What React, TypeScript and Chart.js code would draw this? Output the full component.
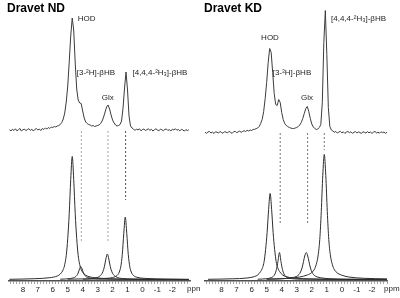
import React, { useEffect, useRef } from 'react';
import { Chart, registerables } from 'chart.js';

Chart.register(...registerables);

const FONT = '"Liberation Sans", Arial, Helvetica, sans-serif';

// tick labels shown under each axis
const tickLabelValues = [8, 7, 6, 5, 4, 3, 2, 1, 0, -1, -2];

// ---------- Dravet ND (left) ----------
const ndTitle = 'Dravet ND';
const ndAxisMin = -3.18;
const ndAxisMax = 8.93;
const ndTopStart = 8.9; // measured spectrum sampled every 0.1 ppm from here
const ndTopSpectrum = [
  0.5, -1, 0.8, -0.5, 1.2, -0.8, 0.3, 1.5, -1, 0.2,
  1, -0.7, 0.5, 1.3, -0.4, 0.8, -1, 0.6, 1.4, 0,
  1, -0.5, 1.5, 0.5, 2, 1, 2.5, 1.5, 3, 2.5,
  3.5, 3, 4, 4.5, 5.5, 7.5, 11, 17, 28, 44,
  68, 94, 112, 100, 67, 41, 30, 27, 26.5, 19,
  12, 8, 6.5, 5.5, 5, 4, 4.5, 3.5, 4, 4.5,
  5, 6.5, 9, 13, 18, 23, 25, 21, 15, 10,
  7, 5, 4, 4.5, 5.5, 9, 22, 42, 58, 40,
  14, 4, 2, 1, -0.5, 1, 0, 1.2, -0.8, 0.5,
  1, -0.6, 0.4, 1.1, -0.3, 0.7, -1, 0.3, 1.2, 0,
  -0.8, 0.9, 0.2, -0.7, 0.6, 1, -0.5, 0.4, -1, 0.8,
  0, 1.3, -0.2, 0.5, -0.9, 0.7, 0.1, -1.2, 0.4, -0.6,
  0.3,
];
const ndTopBase = 151;

const ndHodPpm = [8.9, 7.2, 6.2, 5.7, 5.5, 5.3, 5.2, 5.1, 5.0, 4.9, 4.8, 4.7, 4.6, 4.5, 4.4, 4.3, 4.2, 4.1, 3.9, 3.7, 3.2, 2.2, 0.5, -3.1];
const ndHodFit = [0.2, 0.8, 1.8, 3.5, 5.5, 10, 15, 24, 41, 66, 100, 123, 100, 66, 41, 24, 15, 10, 5.5, 3.5, 1.8, 0.8, 0.2, 0];
const ndDeutPpm = [5.5, 4.8, 4.6, 4.5, 4.4, 4.3, 4.2, 4.13, 4.05, 3.95, 3.85, 3.75, 3.6, 3.4, 2.5, -3.1];
const ndDeutFit = [0.3, 1, 1.8, 2.5, 4, 6.5, 11, 13, 11, 6.5, 4, 2.5, 1.8, 1, 0.3, 0];
const ndGlxPpm = [5.0, 4.0, 3.35, 2.95, 2.75, 2.65, 2.55, 2.45, 2.35, 2.25, 2.15, 2.05, 1.95, 1.75, 1.35, 0.6, -1.0, -3.1];
const ndGlxFit = [0.3, 0.6, 1, 2.5, 5, 7.8, 12.7, 20.4, 25.5, 20.4, 12.7, 7.8, 5, 2.5, 1, 0.5, 0.2, 0];
const ndBhbPpm = [4.0, 2.6, 2.0, 1.7, 1.55, 1.45, 1.35, 1.25, 1.15, 1.05, 0.95, 0.85, 0.75, 0.6, 0.3, -0.3, -1.5, -3.1];
const ndBhbFit = [0.3, 1, 2, 4, 7.5, 13, 25, 46, 62.5, 46, 25, 13, 7.5, 4, 2, 1, 0.4, 0.2];
const ndFitBase = 1.5;

const ndGuidePpm = [4.09, 2.31, 1.13];
const ndGuideTop = [150, 150, 150];
const ndGuideBottom = [40, 40, 81];
const ndGuideColor = ['#a8a8a8', '#a8a8a8', '#555555'];

const ndLabels = ['HOD', '[3-²H]-βHB', 'Glx', '[4,4,4-²H₃]-βHB'];
const ndLabelPpm = [4.33, 4.4, 2.73, 0.67];
const ndLabelY = [262, 208, 183, 208];

// ---------- Dravet KD (right) ----------
const kdTitle = 'Dravet KD';
const kdAxisMin = -3.0;
const kdAxisMax = 9.1;
const kdTopStart = 9.1;
const kdTopSpectrum = [
  0.3, -0.8, 0.6, 1, -0.5, 0.4, -1, 0.8, 0.2, -0.6,
  1.1, 0, -0.7, 0.9, 0.3, -0.4, 1.2, 0.1, -0.9, 0.7,
  1.3, -0.2, 0.6, 1.4, 0.2, 1, 1.8, 1, 2.2, 1.5,
  2.5, 2, 3, 3.2, 3.8, 4.5, 6, 9, 13, 21,
  34, 50, 70, 84, 80, 60, 39, 28, 27, 33,
  30, 20, 13, 9, 7, 6, 5, 4.5, 4, 4,
  4.5, 5, 6, 7.5, 10, 14, 19, 24, 26, 21,
  14, 8.5, 5.5, 4, 3, 3.5, 5, 8, 30, 90,
  122, 78, 25, 6, 2.5, 1.5, 0.3, 1, -0.6, 0.5,
  1.1, -0.3, 0.6, -0.9, 0.4, 1, -0.2, 0.7, -0.8, 0.2,
  0.9, -0.5, 0.6, 0, -1, 0.8, 0.1, -0.6, 0.9, -0.3,
  0.5, -0.9, 0.4, 1, -0.4, 0.3, -0.7, 0.8, -0.2, 0.5,
  -0.8, 0.2,
];
const kdTopBase = 148.5;

const kdHodPpm = [8.9, 7.3, 6.3, 5.8, 5.6, 5.4, 5.27, 5.17, 5.07, 4.97, 4.87, 4.77, 4.67, 4.57, 4.47, 4.37, 4.27, 4.14, 3.94, 3.74, 3.24, 2.2, 0.5, -3.0];
const kdHodFit = [0.2, 0.7, 1.5, 3, 4.5, 8, 12, 18, 30, 47, 70, 86, 70, 47, 30, 18, 12, 8, 4.5, 3, 1.5, 0.7, 0.2, 0];
const kdDeutPpm = [5.6, 5.0, 4.7, 4.55, 4.45, 4.35, 4.25, 4.15, 4.05, 3.95, 3.85, 3.75, 3.6, 3.3, 2.6, -3.0];
const kdDeutFit = [0.3, 0.8, 1.8, 3.2, 5.5, 10, 18, 27, 18, 10, 5.5, 3.2, 1.8, 0.8, 0.3, 0];
const kdGlxPpm = [5.0, 3.9, 3.3, 3.0, 2.85, 2.75, 2.65, 2.55, 2.47, 2.37, 2.27, 2.19, 2.09, 1.99, 1.89, 1.74, 1.44, 0.84, -0.3, -3.0];
const kdGlxFit = [0.3, 0.8, 1.8, 3.2, 5, 7.5, 11.5, 18, 23.5, 27, 23.5, 18, 11.5, 7.5, 5, 3.2, 1.8, 0.8, 0.3, 0];
const kdBhbPpm = [5.0, 3.5, 2.8, 2.3, 2.0, 1.8, 1.67, 1.57, 1.47, 1.37, 1.27, 1.17, 1.07, 0.97, 0.87, 0.77, 0.67, 0.54, 0.34, 0.04, -0.46, -1.5, -3.0];
const kdBhbFit = [0.4, 1.2, 2.5, 4.5, 7, 11, 17, 25, 40, 68, 104, 125, 104, 68, 40, 25, 17, 11, 7, 4.5, 2.5, 1.2, 0.6];
const kdFitBase = 1.5;

const kdGuidePpm = [4.1, 2.28, 1.17];
const kdGuideTop = [148, 148, 148];
const kdGuideBottom = [56, 56, 131];
const kdGuideColor = ['#777777', '#777777', '#777777'];

const kdLabels = ['HOD', '[3-²H]-βHB', 'Glx', '[4,4,4-²H₃]-βHB'];
const kdLabelPpm = [5.37, 4.59, 2.72, 0.72];
const kdLabelY = [243, 208, 183, 262];

type PanelCfg = {
  left: number;
  padLeft: number;
  padRight: number;
  titleX: number;
  title: string;
  min: number;
  max: number;
  topStart: number;
  top: number[];
  topBase: number;
  fits: { ppm: number[]; val: number[] }[];
  fitBase: number;
  guidePpm: number[];
  guideTop: number[];
  guideBottom: number[];
  guideColor: string[];
  labels: string[];
  labelPpm: number[];
  labelY: number[];
};

const panels: PanelCfg[] = [
  {
    left: 0, padLeft: 9, padRight: 10, titleX: 7, title: ndTitle,
    min: ndAxisMin, max: ndAxisMax, topStart: ndTopStart, top: ndTopSpectrum, topBase: ndTopBase,
    fits: [
      { ppm: ndHodPpm, val: ndHodFit },
      { ppm: ndDeutPpm, val: ndDeutFit },
      { ppm: ndGlxPpm, val: ndGlxFit },
      { ppm: ndBhbPpm, val: ndBhbFit },
    ],
    fitBase: ndFitBase,
    guidePpm: ndGuidePpm, guideTop: ndGuideTop, guideBottom: ndGuideBottom, guideColor: ndGuideColor,
    labels: ndLabels, labelPpm: ndLabelPpm, labelY: ndLabelY,
  },
  {
    left: 200, padLeft: 5, padRight: 13, titleX: 4, title: kdTitle,
    min: kdAxisMin, max: kdAxisMax, topStart: kdTopStart, top: kdTopSpectrum, topBase: kdTopBase,
    fits: [
      { ppm: kdHodPpm, val: kdHodFit },
      { ppm: kdDeutPpm, val: kdDeutFit },
      { ppm: kdGlxPpm, val: kdGlxFit },
      { ppm: kdBhbPpm, val: kdBhbFit },
    ],
    fitBase: kdFitBase,
    guidePpm: kdGuidePpm, guideTop: kdGuideTop, guideBottom: kdGuideBottom, guideColor: kdGuideColor,
    labels: kdLabels, labelPpm: kdLabelPpm, labelY: kdLabelY,
  },
];

function Panel({ cfg }: { cfg: PanelCfg }) {
  const ref = useRef<HTMLCanvasElement>(null);
  useEffect(() => {
    const canvas = ref.current!;
    const datasets: any[] = [];
    datasets.push({
      data: cfg.top.map((v, i) => ({ x: Math.round((cfg.topStart - i * 0.1) * 100) / 100, y: cfg.topBase + v })),
      borderColor: '#3c3c3c', borderWidth: 1, pointRadius: 0, tension: 0,
    });
    cfg.fits.forEach((f) => {
      datasets.push({
        data: f.ppm.map((p, i) => ({ x: p, y: cfg.fitBase + f.val[i] })),
        borderColor: '#2e2e2e', borderWidth: 1, pointRadius: 0, cubicInterpolationMode: 'monotone',
      });
    });
    cfg.guidePpm.forEach((p, i) => {
      datasets.push({
        data: [{ x: p, y: cfg.guideTop[i] }, { x: p, y: cfg.guideBottom[i] }],
        borderColor: cfg.guideColor[i], borderWidth: 1, borderDash: [2, 2], pointRadius: 0,
      });
    });

    const textPlugin = {
      id: 'panelTexts',
      afterDraw(chart: any) {
        const ctx = chart.ctx;
        const xs = chart.scales.x;
        const ys = chart.scales.y;
        ctx.save();
        ctx.fillStyle = '#1e1e1e';
        ctx.font = `8px ${FONT}`;
        ctx.textAlign = 'left';
        ctx.textBaseline = 'middle';
        cfg.labels.forEach((t, i) => {
          ctx.fillText(t, xs.getPixelForValue(cfg.labelPpm[i]), ys.getPixelForValue(cfg.labelY[i]));
        });
        ctx.textBaseline = 'top';
        ctx.fillText('ppm', chart.chartArea.right - 3, chart.chartArea.bottom + 4);
        ctx.fillStyle = '#000';
        ctx.font = `bold 12px ${FONT}`;
        ctx.textBaseline = 'alphabetic';
        ctx.fillText(cfg.title, cfg.titleX, 12);
        ctx.restore();
      },
    };

    const chart = new Chart(canvas, {
      type: 'line',
      data: { datasets },
      options: {
        animation: false,
        responsive: false,
        events: [],
        layout: { padding: { left: cfg.padLeft, right: cfg.padRight, top: 8, bottom: 0 } },
        plugins: { legend: { display: false }, tooltip: { enabled: false }, title: { display: false } },
        scales: {
          x: {
            type: 'linear',
            reverse: true,
            min: cfg.min,
            max: cfg.max,
            afterFit: (s: any) => { s.height = 17; },
            border: { display: true, color: '#505050', width: 1.5 },
            grid: { display: true, drawOnChartArea: false, drawTicks: true, tickLength: 3, color: '#8a8a8a', lineWidth: 0.8 },
            ticks: {
              stepSize: 0.2,
              autoSkip: false,
              includeBounds: false,
              maxRotation: 0,
              minRotation: 0,
              padding: 1,
              color: '#222',
              font: { size: 8, family: FONT },
              callback: (v: any) => {
                const n = Math.round(Number(v) * 10) / 10;
                return tickLabelValues.includes(n) ? String(n) : '';
              },
            },
          },
          y: { display: false, min: 0, max: 273 },
        },
      },
      plugins: [textPlugin],
    } as any);
    return () => chart.destroy();
  }, [cfg]);
  return (
    <canvas
      ref={ref}
      width={200}
      height={298}
      style={{ position: 'absolute', left: cfg.left, top: 0, width: 200, height: 298 }}
    />
  );
}

export default function App() {
  return (
    <div style={{ position: 'fixed', left: 0, top: 0, width: 400, height: 298, background: '#fff' }}>
      {panels.map((p, i) => (
        <Panel key={i} cfg={p} />
      ))}
    </div>
  );
}
